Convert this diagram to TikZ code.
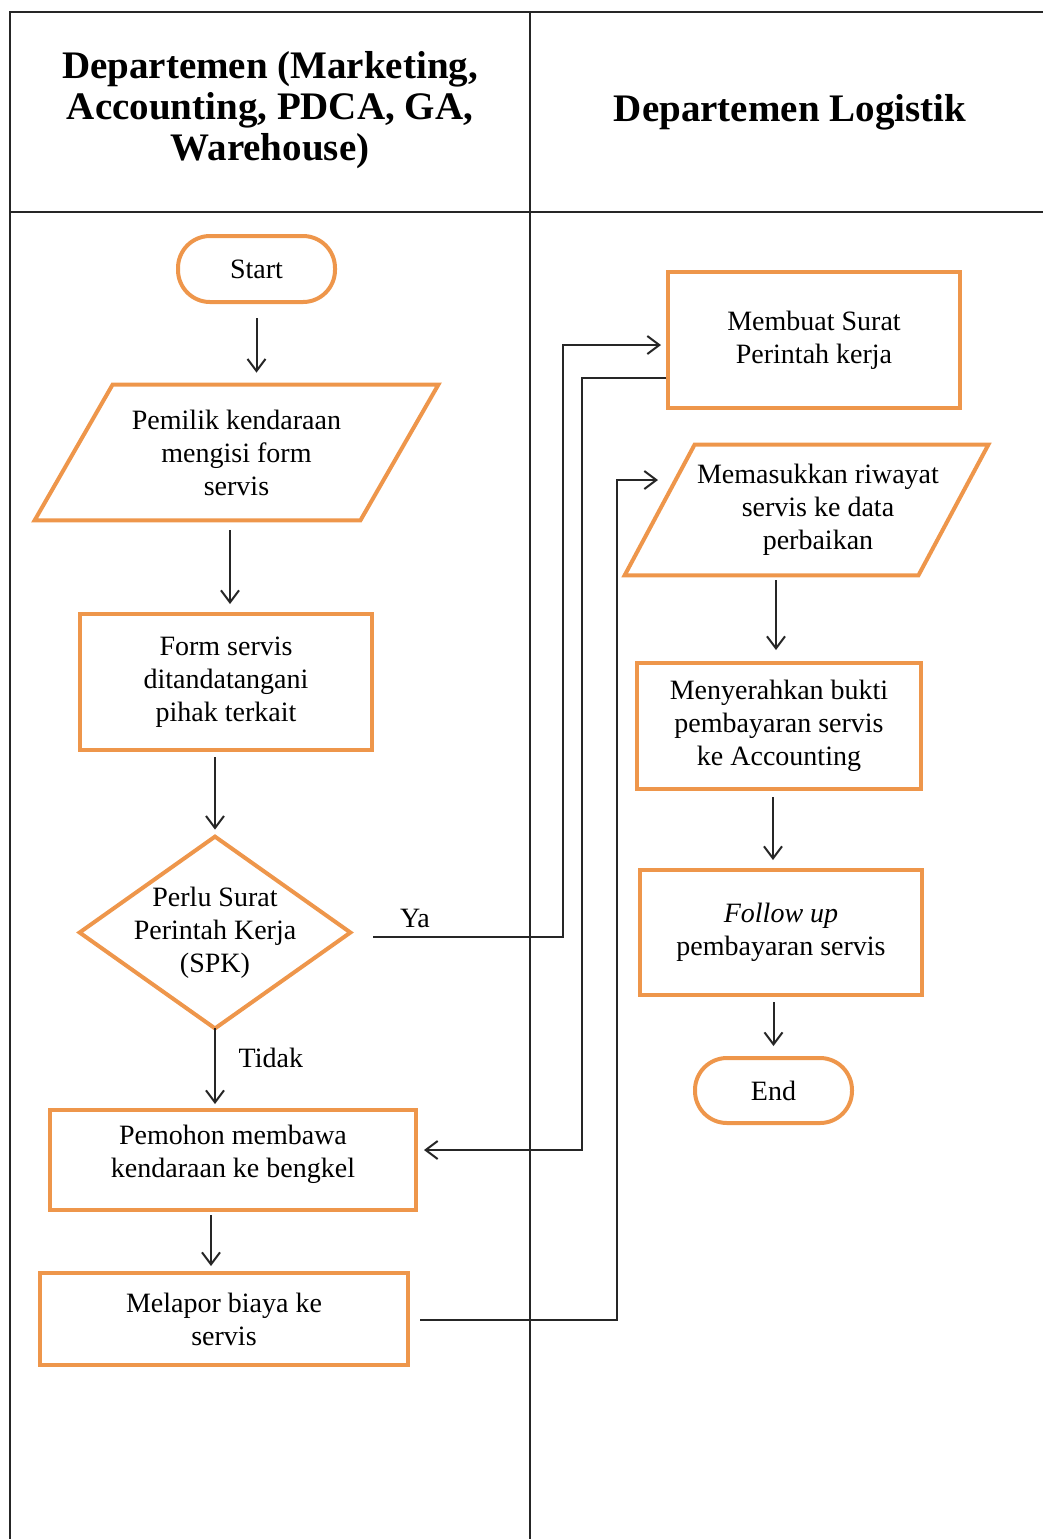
\documentclass[tikz,border=0pt]{standalone}
\usepackage{fontspec}
\setmainfont{Liberation Serif}
\usetikzlibrary{arrows.meta}
\definecolor{orng}{RGB}{238,150,75}
\begin{document}
\begin{tikzpicture}[x=0.5pt,y=-0.5pt,
  shapeline/.style={draw=orng,line width=2pt},
  txt/.style={align=center,inner sep=0pt,font=\fontsize{14}{16.5}\selectfont},
  boxnode/.style={txt,shapeline,rectangle},
  ghost/.style={txt,rectangle},
  term/.style={boxnode,rounded corners=16pt},
  arr/.style={draw=black!85,line width=1pt,-{Straight Barb[length=6pt,width=9pt]}},
  lbl/.style={font=\fontsize{14}{16}\selectfont},
  hdr/.style={align=center,font=\bfseries\fontsize{19.5}{20.5}\selectfont},
  grid/.style={draw=black!85,line width=1pt}]
\useasboundingbox (0,0) rectangle (1043,1539);
% table
\draw[grid] (10,1539) -- (10,12) -- (1043,12);
\draw[grid] (10,212) -- (1043,212);
\draw[grid] (530,12) -- (530,1539);
\node[hdr] (h1) at (270,110) {Departemen (Marketing,\\Accounting, PDCA, GA,\\Warehouse)};
\node[hdr] (h2) at (790,112) {Departemen Logistik};
% left lane
\node[term,minimum width=78.5pt,minimum height=33pt] (start) at (256.5,269) {Start};
\node[ghost,minimum width=201.5pt,minimum height=67.5pt] (p1) at (236.5,452.5) {Pemilik kendaraan\\mengisi form\\servis};
\draw[shapeline] ([xshift=39pt]p1.north west) -- (p1.north east) -- ([xshift=-39pt]p1.south east) -- (p1.south west) -- cycle;
\node[boxnode,minimum width=146pt,minimum height=68pt] (form) at (226,682) {Form servis\\ditandatangani\\pihak terkait};
\node[ghost,minimum width=135pt,minimum height=95.5pt] (dia) at (215,932.5) {Perlu Surat\\Perintah Kerja\\(SPK)};
\draw[shapeline] (dia.north) -- (dia.east) -- (dia.south) -- (dia.west) -- cycle;
\node[boxnode,minimum width=183pt,minimum height=50pt] (pem) at (233,1160) {Pemohon membawa\\kendaraan ke bengkel\rule[-9pt]{0pt}{0pt}};
\node[boxnode,minimum width=184pt,minimum height=46pt] (mel) at (224,1319) {Melapor biaya ke\\servis};
% right lane
\node[boxnode,minimum width=146pt,minimum height=68pt] (mem) at (814,340) {Membuat Surat\\Perintah kerja};
\node[ghost,minimum width=181.5pt,minimum height=65pt] (p2) at (818,510) {Memasukkan riwayat\\servis ke data\\perbaikan};
\draw[shapeline] ([xshift=29.25pt]p2.north west) -- ([xshift=-5.75pt]p2.north east) -- ([xshift=-40.75pt]p2.south east) -- ([xshift=-5.75pt]p2.south west) -- cycle;
\node[boxnode,minimum width=142pt,minimum height=63pt] (men) at (779,726) {Menyerahkan bukti\\pembayaran servis\\ke Accounting};
\node[boxnode,minimum width=141pt,minimum height=62.5pt] (fol) at (781,932.5) {\textit{Follow up}\\pembayaran servis};
\node[term,minimum width=78.5pt,minimum height=32.5pt] (end) at (773.5,1090.5) {End};
% vertical arrows
\draw[arr,shorten <=7pt,shorten >=6pt] (start.south) -- (start.south |- p1.north);
\draw[arr,shorten <=5pt,shorten >=4pt] ([xshift=2pt]form.north |- p1.south) -- ([xshift=2pt]form.north);
\draw[arr,shorten <=2.5pt,shorten >=3.5pt] (dia.north |- form.south) -- (dia.north);
\draw[arr,shorten >=2pt] (dia.south) -- (dia.south |- pem.north) node[lbl,pos=0.37,right=8pt] (tidak) {Tidak};
\draw[arr,shorten <=1.5pt,shorten >=2.5pt] ([xshift=-2pt]dia.south |- pem.south) -- ([xshift=-2pt]dia.south |- mel.north);
\draw[arr,shorten <=2.5pt,shorten >=5.5pt] ([xshift=-1.5pt]men.north |- p2.south) -- ([xshift=-1.5pt]men.north);
\draw[arr,shorten <=3pt,shorten >=4pt] ([xshift=-3pt]men.south) -- ([xshift=-3pt]men.south |- fol.north);
\draw[arr,shorten <=2.5pt,shorten >=5pt] (fol.south -| end.north) -- (end.north);
% cross-lane connectors
\coordinate (ya1) at (563,937);
\coordinate (ya2) at (563,345);
\draw[arr,shorten >=2.5pt] ([xshift=11.5pt]dia.east |- ya1) -- (ya1) -- (ya2) -- (ya2 -| mem.west);
\node[lbl] (ya) at (415,918) {Ya};
\coordinate (c1) at (582,378);
\coordinate (c2) at (582,1150);
\draw[arr,shorten >=3pt] (c1 -| mem.west) -- (c1) -- (c2) -- (c2 -| pem.east);
\coordinate (d1) at (617,1320);
\coordinate (d2) at (617,480);
\coordinate (d3) at (658,480);
\draw[arr,shorten <=5pt] (d1 -| mel.east) -- (d1) -- (d2) -- (d3);
\end{tikzpicture}
\end{document}
